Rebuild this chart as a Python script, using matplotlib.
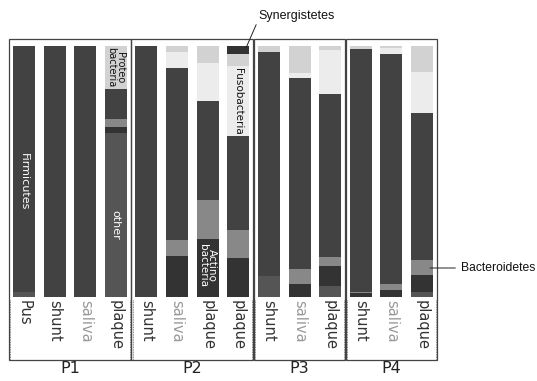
import matplotlib
matplotlib.use('Agg')
import matplotlib.pyplot as plt
from matplotlib.patches import Rectangle
import numpy as np

# Samples (in plotting order) and the patient panels they belong to
samples = ['Pus', 'shunt', 'saliva', 'plaque',
           'shunt', 'saliva', 'plaque', 'plaque',
           'shunt', 'saliva', 'plaque',
           'shunt', 'saliva', 'plaque']
panels = ['P1', 'P2', 'P3', 'P4']
panel_sizes = [4, 4, 3, 3]

# Relative abundance (%) per phylum, stacked bottom -> top
other          = [2, 0, 0, 65.3, 0, 0, 0, 0, 8.2, 0, 4.3, 0, 0, 2]
actinobacteria = [0, 0, 0, 2.4, 0, 16.5, 23.3, 15.5, 0, 5.1, 8.2, 1.4, 2.7, 6.9]
bacteroidetes  = [0, 0, 0, 3.2, 0, 6.4, 15.3, 11.0, 0, 6.1, 3.4, 0.6, 2.4, 6.0]
firmicutes     = [98, 100, 100, 12.0, 100, 68.4, 39.6, 37.5, 89.4, 76.1, 64.8, 96.8, 91.7, 58.6]
fusobacteria   = [0, 0, 0, 0, 0, 6.4, 14.9, 28.0, 0, 1.8, 17.8, 0, 2.3, 16.3]
proteobacteria = [0, 0, 0, 17.1, 0, 2.3, 6.9, 4.8, 2.4, 10.9, 1.5, 1.2, 0.9, 10.2]
synergistetes  = [0, 0, 0, 0, 0, 0, 0, 3.2, 0, 0, 0, 0, 0, 0]

layers = [other, actinobacteria, bacteroidetes, firmicutes,
          fusobacteria, proteobacteria, synergistetes]
colors = ['#555555', '#333333', '#888888', '#424242',
          '#ececec', '#d2d2d2', '#333333']

fig = plt.figure(figsize=(5.37, 3.81), dpi=100)
ax = fig.add_axes([0, 0, 1, 1])
# one data unit per bar slot horizontally, percent vertically
ax.set_xlim(-0.784, 16.756)
ax.set_ylim(-33.47, 118.33)
ax.axis('off')

x = np.arange(len(samples))
bottom = np.zeros(len(samples))
for vals, c in zip(layers, colors):
    ax.bar(x, vals, bottom=bottom, width=0.72, color=c, linewidth=0)
    bottom += np.array(vals)

# sample labels under the bars
for i, s in enumerate(samples):
    col = '#999999' if s == 'saliva' else '#333333'
    ax.text(i, -1.3, s, rotation=270, ha='center', va='top',
            fontsize=10.5, color=col)

# panel boxes and names
start = 0
for name, n in zip(panels, panel_sizes):
    left = start - 0.49
    right = start + n - 1 + 0.49
    ax.add_patch(Rectangle((left, -25.1), right - left, 127.9,
                           fill=False, edgecolor='#444444', lw=0.9))
    for xe in (left + 0.04, right - 0.04):
        ax.plot([xe, xe], [-1, -25.1], color='#666666', lw=0.6, ls=(0, (1, 1)))
    ax.text((left + right) / 2, -28.3, name, ha='center', va='center',
            fontsize=11.5, color='#222222')
    start += n

# labels inside bars
ax.text(0, 45.9, 'Firmicutes', rotation=270, ha='center', va='center',
        fontsize=8, color='white')
ax.text(3, 28.7, 'other', rotation=270, ha='center', va='center',
        fontsize=8, color='white')
ax.text(3, 91.5, 'Proteo\nbacteria', rotation=270, ha='center', va='center',
        fontsize=7, color='#111111', linespacing=0.9)
ax.text(6, 12.4, 'Actino\nbacteria', rotation=270, ha='center', va='center',
        fontsize=7.5, color='white', linespacing=0.9)
ax.text(7, 78, 'Fusobacteria', rotation=270, ha='center', va='center',
        fontsize=7.5, color='#111111')

# callouts
ax.annotate('Synergistetes', xy=(7.25, 99.2), xytext=(7.64, 112),
            ha='left', va='center', fontsize=9, color='#111111',
            family='Liberation Sans',
            arrowprops=dict(arrowstyle='-', color='#222222', lw=0.7,
                            relpos=(0.0, 0.1), shrinkA=0, shrinkB=0))
ax.annotate('Bacteroidetes', xy=(13.26, 11.55), xytext=(14.27, 11.55),
            ha='left', va='center', fontsize=8.7, color='#111111',
            family='Liberation Sans',
            arrowprops=dict(arrowstyle='-', color='#222222', lw=0.7,
                            relpos=(0.0, 0.5), shrinkA=2, shrinkB=0))

plt.savefig('out.png', dpi=100, facecolor='white')
